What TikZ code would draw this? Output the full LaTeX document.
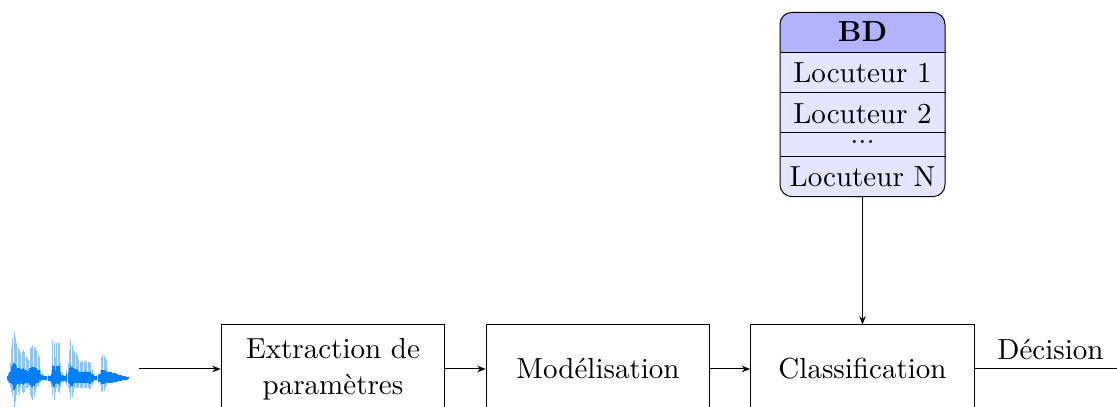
\documentclass[tikz,border=0pt]{standalone}
\usetikzlibrary{arrows.meta,calc}
\definecolor{waveLight}{HTML}{8CC5FF}
\definecolor{waveDark}{HTML}{007FFF}
\newcommand{\diagramfont}{\fontsize{10.45}{13}\selectfont}
\tikzset{
  x=0.36pt, y=-0.36pt,
  every node/.style={font=\diagramfont},
  blockbox/.style={draw=black, line width=0.36pt, minimum width=80.6pt, minimum height=31.7pt, inner sep=0pt, align=center},
  flow/.style={draw=black, line width=0.36pt, -{Stealth[length=3pt,width=2.4pt]}},
  plainline/.style={draw=black, line width=0.36pt},
  rowtext/.style={inner sep=0pt, anchor=center},
  rowrule/.style={draw=black, line width=0.36pt},
}
\begin{document}
\begin{tikzpicture}
\useasboundingbox (0,0) rectangle (1117,407);
\clip (0,0) rectangle (1117,407);
% waveform (zoom coordinates mapped to pixels)
\foreach \zx/\zt/\zb in {
22/168/182,26/160/190,30/130/200,34/80/215,38/55/225,42/35/260,46/50/245,50/70/225,54/85/215,58/90/225,62/100/205,66/95/215,70/90/220,74/95/215,78/110/205,82/115/205,86/120/200,90/85/225,94/80/235,98/75/240,102/80/230,106/85/215,110/90/205,114/105/200,118/110/190,122/150/185,126/160/180,130/165/180,135/168/180,140/168/182,145/165/183,150/165/185,155/150/200,158/60/225,162/70/240,166/110/215,170/70/205,174/68/215,178/70/220,182/130/200,186/155/190,190/165/185,195/165/190,200/150/195,205/130/205,208/90/215,212/60/238,216/75/230,220/90/215,224/95/205,228/100/205,232/105/205,236/120/205,240/125/205,244/122/205,248/122/205,252/125/205,256/120/205,260/125/205,264/125/205,268/125/208,272/130/208,276/150/195,280/160/188,285/168/182,290/165/182,295/160/190,300/150/195,304/110/215,308/105/212,312/108/212,316/115/205,320/120/195}{
  \pgfmathsetmacro{\wx}{\zx/3}
  \pgfmathsetmacro{\wt}{320+\zt/3}
  \pgfmathsetmacro{\wb}{320+\zb/3}
  \pgfmathsetmacro{\ct}{320+(175-0.3*(175-\zt)-4)/3}
  \pgfmathsetmacro{\cb}{320+(175+0.35*(\zb-175)+4)/3}
  \draw[waveLight, line width=0.3pt] (\wx,\wt) -- (\wx,\wb);
  \draw[waveDark, line width=0.45pt] (\wx,\ct) -- (\wx,\cb);
}
\foreach \zx in {324,328,...,386}{
  \pgfmathsetmacro{\wx}{\zx/3}
  \pgfmathsetmacro{\ct}{320+(155+(\zx-324)/62*17)/3}
  \pgfmathsetmacro{\cb}{320+(190-(\zx-324)/62*12)/3}
  \draw[waveDark, line width=0.6pt] (\wx,\ct) -- (\wx,\cb);
}
% blocks
\node[blockbox] (ext) at (333,369) {Extraction de\\paramètres};
\node[blockbox] (mod) at (598,369) {Modélisation};
\node[blockbox] (cla) at (862.5,369) {Classification};
\coordinate (src) at (139,369);
\coordinate (out) at (1117,369);
% database
\node[draw=black, line width=0.36pt, fill=blue!10, rounded corners=4.3pt, minimum width=59.4pt, minimum height=66.3pt, inner sep=0pt,
  path picture={\fill[blue!30, sharp corners] (path picture bounding box.north west) rectangle ($(path picture bounding box.north east)+(0,40.5)$);}] (bd) at (862.5,104.5) {};
\draw[rowrule] ($(bd.north west)+(0,40.5)$) -- ($(bd.north east)+(0,40.5)$);
\draw[rowrule] ($(bd.north west)+(0,81)$) -- ($(bd.north east)+(0,81)$);
\draw[rowrule] ($(bd.north west)+(0,121)$) -- ($(bd.north east)+(0,121)$);
\draw[rowrule] ($(bd.north west)+(0,144.5)$) -- ($(bd.north east)+(0,144.5)$);
\node[rowtext] (t0) at (862.5,32) {\textbf{BD}};
\node[rowtext] (t1) at (862.5,72.5) {Locuteur 1};
\node[rowtext] (t2) at (862.5,113.5) {Locuteur 2};
\node[rowtext] (t3) at (862.5,142) {...};
\node[rowtext] (t4) at (862.5,177) {Locuteur N};
% connectors
\draw[flow] (src) -- (ext);
\draw[flow] (ext) -- (mod);
\draw[flow] (mod) -- (cla);
\draw[flow] (bd) -- (cla);
\draw[plainline] (cla) -- (out);
\node[inner sep=0pt] (dec) at (1050.5,349.5) {Décision};
\end{tikzpicture}
\end{document}
